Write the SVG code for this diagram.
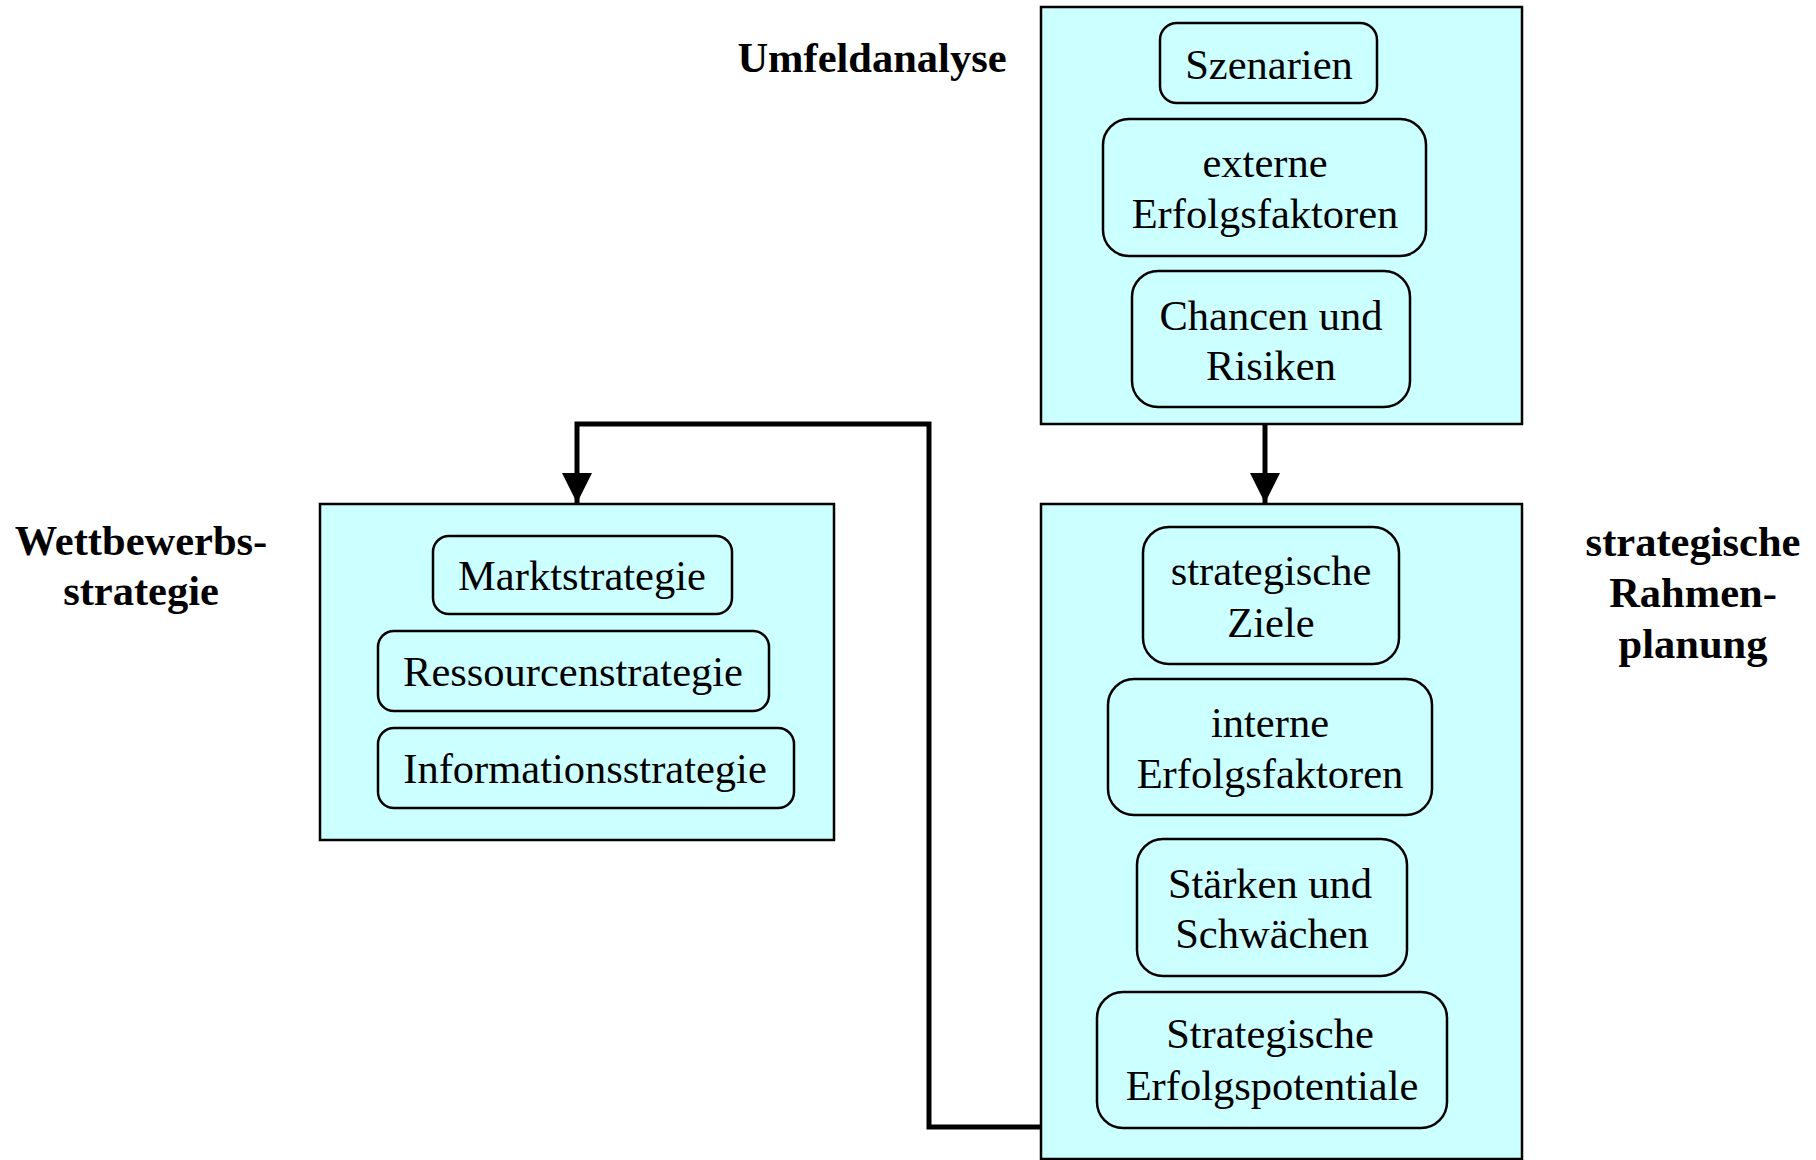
<svg xmlns="http://www.w3.org/2000/svg" width="1816" height="1160" viewBox="0 0 1816 1160">
  <defs>
    <style>
      .group { fill: #CCFFFF; stroke: #000; stroke-width: 2.5; }
      .item { fill: #CCFFFF; stroke: #000; stroke-width: 2.5; }
      .txt { font-family: "Liberation Serif", "Times New Roman", serif; font-size: 42.5px; fill: #000; text-anchor: middle; }
      .title { font-family: "Liberation Serif", "Times New Roman", serif; font-size: 42.5px; font-weight: bold; fill: #000; text-anchor: middle; }
      .link { fill: none; stroke: #000; stroke-width: 5; stroke-linejoin: miter; }
    </style>
    <marker id="arrow" viewBox="0 0 30 30" refX="30" refY="15" markerWidth="30" markerHeight="31" markerUnits="userSpaceOnUse" orient="auto">
      <path d="M0,0 L30,15 L0,30 Z" fill="#000"/>
    </marker>
  </defs>

  <rect width="1816" height="1160" fill="#fff"/>

  <!-- Environment analysis -->
  <g id="umfeldanalyse">
    <rect class="group" x="1041" y="7" width="481" height="417"/>
    <text class="title" x="872" y="72">Umfeldanalyse</text>
  </g>
  <g id="szenarien">
    <rect class="item" x="1160" y="23" width="217" height="80" rx="17"/>
    <text class="txt" x="1269" y="79">Szenarien</text>
  </g>
  <g id="externe-erfolgsfaktoren">
    <rect class="item" x="1103" y="119" width="323" height="137" rx="26"/>
    <text class="txt" x="1265" y="177">externe</text>
    <text class="txt" x="1265" y="228">Erfolgsfaktoren</text>
  </g>
  <g id="chancen-risiken">
    <rect class="item" x="1132" y="271" width="278" height="136" rx="26"/>
    <text class="txt" x="1271" y="330">Chancen und</text>
    <text class="txt" x="1271" y="380">Risiken</text>
  </g>

  <!-- Strategic framework planning -->
  <g id="rahmenplanung">
    <rect class="group" x="1041" y="504" width="481" height="655"/>
    <text class="title" x="1693" y="556">strategische</text>
    <text class="title" x="1693" y="607">Rahmen-</text>
    <text class="title" x="1693" y="658">planung</text>
  </g>
  <g id="strategische-ziele">
    <rect class="item" x="1143" y="527" width="256" height="137" rx="26"/>
    <text class="txt" x="1271" y="585">strategische</text>
    <text class="txt" x="1271" y="637">Ziele</text>
  </g>
  <g id="interne-erfolgsfaktoren">
    <rect class="item" x="1108" y="679" width="324" height="136" rx="26"/>
    <text class="txt" x="1270" y="737">interne</text>
    <text class="txt" x="1270" y="788">Erfolgsfaktoren</text>
  </g>
  <g id="staerken-schwaechen">
    <rect class="item" x="1137" y="839" width="270" height="137" rx="26"/>
    <text class="txt" x="1270" y="898">Stärken und</text>
    <text class="txt" x="1272" y="948">Schwächen</text>
  </g>
  <g id="erfolgspotentiale">
    <rect class="item" x="1097" y="992" width="350" height="136" rx="26"/>
    <text class="txt" x="1270" y="1048">Strategische</text>
    <text class="txt" x="1272" y="1100">Erfolgspotentiale</text>
  </g>

  <!-- Competitive strategy -->
  <g id="wettbewerbsstrategie">
    <rect class="group" x="320" y="504" width="514" height="336"/>
    <text class="title" x="141" y="555">Wettbewerbs-</text>
    <text class="title" x="141" y="605">strategie</text>
  </g>
  <g id="marktstrategie">
    <rect class="item" x="433" y="536" width="299" height="78" rx="16"/>
    <text class="txt" x="582" y="590">Marktstrategie</text>
  </g>
  <g id="ressourcenstrategie">
    <rect class="item" x="378" y="631" width="391" height="80" rx="16"/>
    <text class="txt" x="573" y="686">Ressourcenstrategie</text>
  </g>
  <g id="informationsstrategie">
    <rect class="item" x="378" y="728" width="416" height="80" rx="16"/>
    <text class="txt" x="585" y="783">Informationsstrategie</text>
  </g>

  <!-- Connectors -->
  <g id="connectors">
    <path class="link" d="M1265,424 L1265,503" marker-end="url(#arrow)"/>
    <path class="link" d="M1041,1127 L929,1127 L929,424 L577,424 L577,503" marker-end="url(#arrow)"/>
  </g>
</svg>
